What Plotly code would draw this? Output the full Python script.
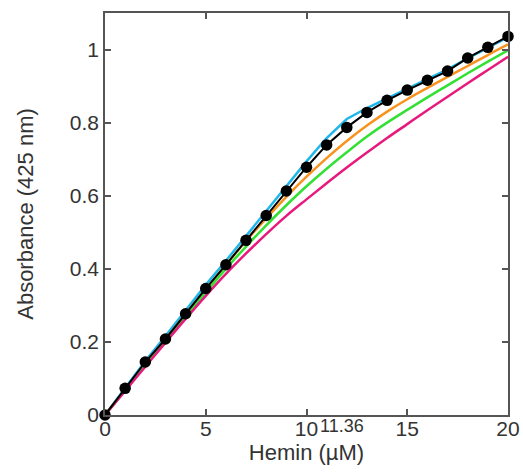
import plotly.graph_objects as go

hemin = list(range(0, 21))
measured = [0, 0.073, 0.145, 0.208, 0.277, 0.346, 0.411, 0.478, 0.546, 0.613, 0.678,
            0.739, 0.787, 0.828, 0.861, 0.889, 0.916, 0.941, 0.977, 1.006, 1.036]
fit_blue = [0, 0.075, 0.148, 0.216, 0.286, 0.356, 0.422, 0.490, 0.558, 0.626, 0.694,
            0.758, 0.810, 0.840, 0.866, 0.893, 0.920, 0.946, 0.976, 1.005, 1.034]
fit_orange = [0, 0.069, 0.138, 0.207, 0.276, 0.344, 0.411, 0.476, 0.538, 0.597, 0.652,
              0.703, 0.750, 0.792, 0.830, 0.864, 0.895, 0.925, 0.955, 0.985, 1.014]
fit_green = [0, 0.068, 0.136, 0.203, 0.270, 0.336, 0.400, 0.461, 0.519, 0.574, 0.626,
             0.674, 0.719, 0.762, 0.800, 0.835, 0.869, 0.902, 0.935, 0.967, 0.998]
fit_magenta = [0, 0.066, 0.132, 0.198, 0.263, 0.326, 0.386, 0.442, 0.495, 0.545, 0.590,
               0.634, 0.677, 0.718, 0.758, 0.796, 0.834, 0.871, 0.908, 0.944, 0.980]

x_ticks = [0, 5, 10, 15, 20]
y_ticks = [0, 0.2, 0.4, 0.6, 0.8, 1]
y_tick_text = ["0", "0.2", "0.4", "0.6", "0.8", "1"]
marker_x = 11.36
marker_label = "11.36"

FONT = "Liberation Sans, Arial, sans-serif"
TXT = "#333333"

fig = go.Figure()
fig.add_trace(go.Scatter(x=hemin, y=fit_blue, mode="lines",
                         line=dict(color="#1fb6ea", width=2.5), cliponaxis=False))
fig.add_trace(go.Scatter(x=hemin, y=fit_orange, mode="lines", line_shape="spline",
                         line=dict(color="#f7931e", width=2.5), cliponaxis=False))
fig.add_trace(go.Scatter(x=hemin, y=fit_green, mode="lines", line_shape="spline",
                         line=dict(color="#33e033", width=2.5), cliponaxis=False))
fig.add_trace(go.Scatter(x=hemin, y=fit_magenta, mode="lines", line_shape="spline",
                         line=dict(color="#e8197d", width=2.5), cliponaxis=False))
fig.add_trace(go.Scatter(x=hemin, y=measured, mode="lines+markers",
                         line=dict(color="black", width=2),
                         marker=dict(color="black", size=11.5), cliponaxis=False))

axis_common = dict(showline=True, linecolor="#555555", linewidth=1.5, mirror="ticks",
                   ticks="inside", ticklen=6, tickwidth=1.5, tickcolor="#555555",
                   showgrid=False, zeroline=False, automargin=False,
                   tickfont=dict(family=FONT, size=21, color=TXT))

fig.update_xaxes(range=[0, 20], tickvals=x_ticks, ticktext=[str(v) for v in x_ticks],
                 ticklabelstandoff=-6,
                 title=dict(text="Hemin (\u00b5M)", font=dict(family=FONT, size=22, color=TXT),
                            standoff=2),
                 **axis_common)
fig.update_yaxes(range=[0, 1.10], tickvals=y_ticks, ticktext=y_tick_text,
                 ticklabelstandoff=0,
                 title=dict(text="Absorbance (425 nm)", font=dict(family=FONT, size=22, color=TXT),
                            standoff=30),
                 **axis_common)

fig.add_annotation(x=marker_x, y=0, xref="x", yref="paper", text=marker_label,
                   showarrow=False, yanchor="top", xshift=8, yshift=1,
                   font=dict(family=FONT, size=18, color=TXT))

fig.update_layout(width=523, height=473, showlegend=False,
                  margin=dict(l=105, r=15, t=13, b=58),
                  paper_bgcolor="white", plot_bgcolor="white")

fig.write_html("out.html", config={"displayModeBar": False},
               post_script="document.body.style.margin='0';document.body.style.overflow='hidden';")
